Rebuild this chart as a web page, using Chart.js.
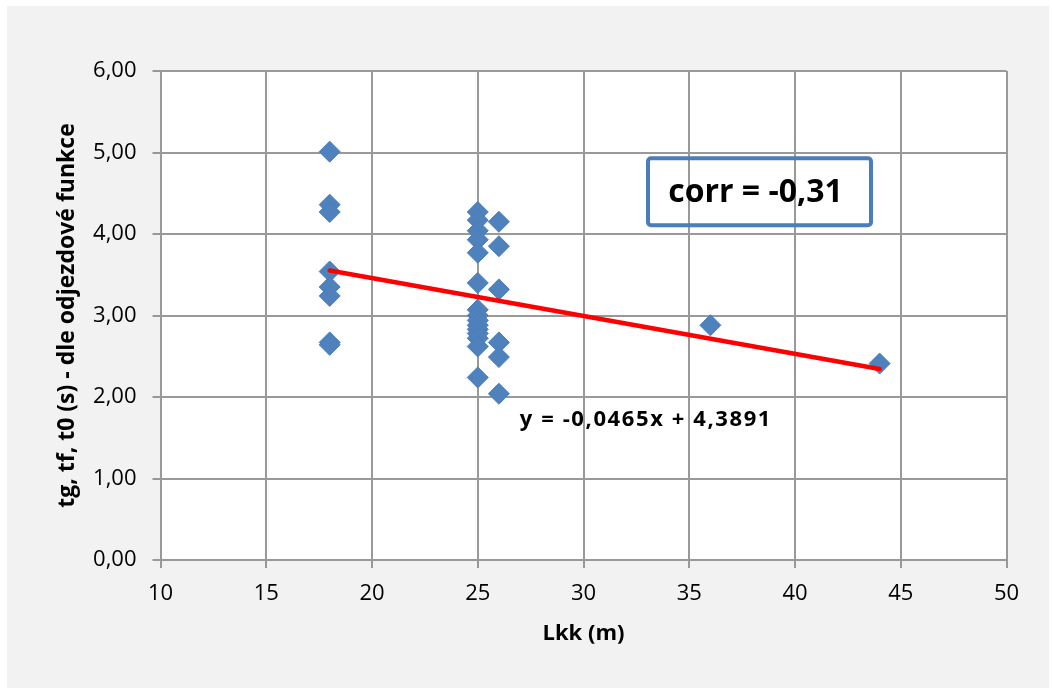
<!DOCTYPE html>
<html>
<head>
<meta charset="utf-8">
<script src="https://cdn.jsdelivr.net/npm/chart.js@4.4.1/dist/chart.umd.min.js"></script>
<style>
    html, body { margin: 0; padding: 0; background: #ffffff; }
    canvas { display: block; }
</style>
</head>
<body>
<canvas id="chart" width="1052" height="689"></canvas>
<script>
// Lkk (m) of each measurement
const lkk = [
    18, 18, 18, 18, 18, 18, 18, 18,
    25, 25, 25, 25, 25, 25, 25, 25, 25, 25, 25, 25, 25, 25, 25,
    26, 26, 26, 26, 26, 26,
    36, 44,
];

// tg, tf, t0 (s) read from the departure function
const tValues = [
    5.01, 4.36, 4.27, 3.54, 3.35, 3.24, 2.67, 2.64,
    4.27, 4.17, 4.04, 3.93, 3.77, 3.40, 3.07, 3.00, 2.94, 2.88, 2.83, 2.78, 2.72, 2.62, 2.24,
    4.15, 3.85, 3.32, 2.67, 2.49, 2.04,
    2.88, 2.41,
];

// Linear trend y = a*x + b
const trendSlope = -0.0465;
const trendIntercept = 4.3891;
const trendFrom = 18;
const trendTo = 44;

const trendLabel = "y = -0,0465x + 4,3891";
const corrLabel = "corr = -0,31";

const xMin = 10, xMax = 50, xStep = 5;
const yMin = 0, yMax = 6, yStep = 1;

const gridColor = "#999999";
const fontFamily = "'Open Sans', 'Noto Sans', sans-serif";

const points = lkk.map((x, i) => ({ x: x, y: tValues[i] }));
const trendPoints = [trendFrom, trendTo].map((x) => ({ x: x, y: trendSlope * x + trendIntercept }));

// Gray page behind everything, white plot area
const backgroundPlugin = {
    id: "background",
    beforeDraw(chart) {
        const { ctx, chartArea } = chart;
        ctx.save();
        ctx.fillStyle = "#ffffff";
        ctx.fillRect(0, 0, chart.width, chart.height);
        ctx.fillStyle = "#f2f2f2";
        ctx.fillRect(7, 6, 1042, 682);
        ctx.fillStyle = "#ffffff";
        ctx.fillRect(chartArea.left, chartArea.top, chartArea.right - chartArea.left, chartArea.bottom - chartArea.top);
        ctx.restore();
    },
};

// Equation text and the correlation box
const labelsPlugin = {
    id: "labels",
    afterDatasetsDraw(chart) {
        const { ctx } = chart;
        const xs = chart.scales.x;
        const ys = chart.scales.y;
        ctx.save();
        ctx.fillStyle = "#000000";
        ctx.textAlign = "center";
        ctx.textBaseline = "middle";

        ctx.font = "bold 22px " + fontFamily;
        ctx.letterSpacing = "1.6px";
        ctx.fillText(trendLabel, xs.getPixelForValue(32.95), ys.getPixelForValue(1.72));

        // box around the correlation value
        const bx = xs.getPixelForValue(33.05);
        const by = ys.getPixelForValue(4.93);
        const bw = 223;
        const bh = 67;
        ctx.strokeStyle = "#4a7ebb";
        ctx.lineWidth = 4;
        ctx.beginPath();
        ctx.roundRect(bx, by, bw, bh, 3);
        ctx.stroke();

        ctx.letterSpacing = "0px";
        ctx.font = "bold 32px " + fontFamily;
        ctx.fillText(corrLabel, bx + bw / 2 - 4, by + bh / 2 + 1);
        ctx.restore();
    },
};

const formatComma = (v) => v.toFixed(2).replace(".", ",");

const chart = new Chart(document.getElementById("chart").getContext("2d"), {
    type: "scatter",
    data: {
        datasets: [
            {
                type: "line",
                label: "Trend",
                data: trendPoints,
                borderColor: "#ff0000",
                borderWidth: 4.5,
                borderCapStyle: "round",
                pointRadius: 0,
                fill: false,
            },
            {
                label: "tg, tf, t0",
                data: points,
                pointStyle: "rectRot",
                pointRadius: 10.5,
                pointHoverRadius: 10.5,
                backgroundColor: "#4f81bd",
                borderColor: "#4a7ebb",
                borderWidth: 1,
            },
        ],
    },
    options: {
        responsive: false,
        animation: false,
        events: [],
        layout: {
            padding: { top: 71, right: 45.5, left: 0, bottom: 0 },
        },
        plugins: {
            legend: { display: false },
            tooltip: { enabled: false },
        },
        scales: {
            x: {
                type: "linear",
                min: xMin,
                max: xMax,
                afterFit(scale) { scale.height = 129; },
                ticks: {
                    stepSize: xStep,
                    color: "#000000",
                    padding: 13,
                    font: { family: fontFamily, size: 22 },
                },
                grid: { color: gridColor, lineWidth: 2, tickLength: 8 },
                border: { color: gridColor, width: 2 },
                title: {
                    display: true,
                    text: "Lkk (m)",
                    color: "#000000",
                    padding: { top: 0, bottom: 42 },
                    font: { family: fontFamily, size: 22, weight: "bold" },
                },
            },
            y: {
                min: yMin,
                max: yMax,
                afterFit(scale) { scale.width = 160.5; },
                ticks: {
                    stepSize: yStep,
                    color: "#000000",
                    padding: 16,
                    font: { family: fontFamily, size: 22 },
                    callback: (v) => formatComma(v),
                },
                grid: { color: gridColor, lineWidth: 2, tickLength: 8 },
                border: { color: gridColor, width: 2 },
                title: {
                    display: true,
                    text: "tg, tf, t0 (s) - dle odjezdové funkce",
                    color: "#000000",
                    padding: { top: 54, bottom: 0 },
                    font: { family: fontFamily, size: 23, weight: "bold" },
                },
            },
        },
    },
    plugins: [backgroundPlugin, labelsPlugin],
});
</script>
</body>
</html>
